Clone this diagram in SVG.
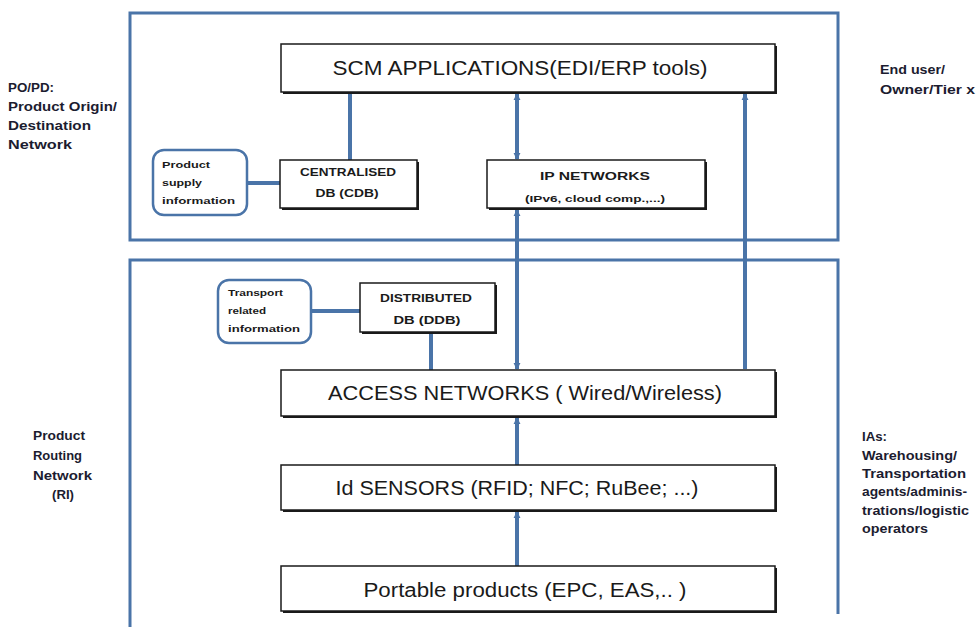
<svg xmlns="http://www.w3.org/2000/svg" width="978" height="627" viewBox="0 0 978 627">
<style>
.frame{fill:none;stroke:#4a74a8;stroke-width:3}
.box{fill:#fff;stroke:#1a1a1a;stroke-width:1.5}
.shadow{fill:#1a1a1a}
.info{fill:#fff;stroke:#4a74a8;stroke-width:2.5}
.big{font-family:"Liberation Sans",Arial,sans-serif;font-size:19.5px;fill:#1a1a1a;text-anchor:middle}
.mid{font-family:"Liberation Sans",Arial,sans-serif;font-size:11.5px;font-weight:bold;fill:#1a1a1a;text-anchor:middle}
.small{font-family:"Liberation Sans",Arial,sans-serif;font-size:8.5px;font-weight:bold;fill:#1a1a1a;text-anchor:middle}
.tiny{font-family:"Liberation Sans",Arial,sans-serif;font-size:9px;font-weight:bold;fill:#1a1a1a}
.side{font-family:"Liberation Sans",Arial,sans-serif;font-size:12px;font-weight:bold;fill:#1c1c30}
.conn{stroke:#4a74a8;stroke-width:4;fill:none}
</style>
<defs>
<marker id="ah" viewBox="0 0 8 8" refX="7" refY="4" markerWidth="1.8" markerHeight="1.8" orient="auto-start-reverse" markerUnits="strokeWidth">
<path d="M0,0 L8,4 L0,8 z" fill="#4a74a8"/>
</marker>
</defs>

<g id="frames">
<rect class="frame" x="130" y="13" width="708" height="227"/>
<path class="frame" d="M130,627 V260 H838 V614"/>
</g>

<g id="connectors">
<line class="conn" x1="350" y1="160" x2="350" y2="93"/>
<line class="conn" x1="517" y1="94" x2="517" y2="159" marker-start="url(#ah)" marker-end="url(#ah)"/>
<line class="conn" x1="517" y1="210" x2="517" y2="369" marker-start="url(#ah)" marker-end="url(#ah)"/>
<line class="conn" x1="745" y1="94" x2="745" y2="369" marker-start="url(#ah)"/>
<line class="conn" x1="247" y1="183" x2="280" y2="183" stroke-width="5"/>
<line class="conn" x1="311" y1="311" x2="360" y2="311" stroke-width="5"/>
<line class="conn" x1="431" y1="333" x2="431" y2="370" stroke-width="3"/>
<line class="conn" x1="517" y1="418" x2="517" y2="465" marker-start="url(#ah)"/>
<line class="conn" x1="517" y1="512" x2="517" y2="566" marker-start="url(#ah)"/>
</g>

<g id="scm">
<rect class="shadow" x="283" y="46" width="494" height="48"/>
<rect class="box" x="281" y="44" width="494" height="48"/>
<text class="big" x="520" y="75" textLength="375" lengthAdjust="spacingAndGlyphs">SCM APPLICATIONS(EDI/ERP tools)</text>
</g>

<g id="cdb">
<rect class="shadow" x="282" y="162" width="137" height="48"/>
<rect class="box" x="280" y="160" width="137" height="48"/>
<text class="mid" x="348" y="176" textLength="96" lengthAdjust="spacingAndGlyphs">CENTRALISED</text>
<text class="mid" x="347" y="197" textLength="63" lengthAdjust="spacingAndGlyphs">DB (CDB)</text>
</g>

<g id="ipnet">
<rect class="shadow" x="489" y="162" width="218" height="48"/>
<rect class="box" x="487" y="160" width="218" height="48"/>
<text class="mid" x="595" y="180" font-size="13" textLength="110" lengthAdjust="spacingAndGlyphs">IP NETWORKS</text>
<text class="small" x="595" y="202" textLength="140" lengthAdjust="spacingAndGlyphs">(IPv6, cloud comp.,...)</text>
</g>

<g id="supply">
<rect class="info" x="153" y="150" width="94" height="65" rx="11"/>
<text class="tiny" x="162" y="168" textLength="48" lengthAdjust="spacingAndGlyphs">Product</text>
<text class="tiny" x="162" y="186" textLength="40" lengthAdjust="spacingAndGlyphs">supply</text>
<text class="tiny" x="162" y="204" textLength="73" lengthAdjust="spacingAndGlyphs">information</text>
</g>

<g id="transport">
<rect class="info" x="218" y="280" width="93" height="63" rx="11"/>
<text class="tiny" x="228" y="296" textLength="55" lengthAdjust="spacingAndGlyphs">Transport</text>
<text class="tiny" x="228" y="314" textLength="38" lengthAdjust="spacingAndGlyphs">related</text>
<text class="tiny" x="228" y="332" textLength="72" lengthAdjust="spacingAndGlyphs">information</text>
</g>

<g id="ddb">
<rect class="shadow" x="362" y="285" width="135" height="49"/>
<rect class="box" x="360" y="283" width="135" height="49"/>
<text class="mid" x="426" y="302" textLength="92" lengthAdjust="spacingAndGlyphs">DISTRIBUTED</text>
<text class="mid" x="427" y="324" textLength="67" lengthAdjust="spacingAndGlyphs">DB (DDB)</text>
</g>

<g id="access">
<rect class="shadow" x="283" y="372" width="494" height="46"/>
<rect class="box" x="281" y="370" width="494" height="46"/>
<text class="big" x="525" y="400" textLength="394" lengthAdjust="spacingAndGlyphs">ACCESS NETWORKS ( Wired/Wireless)</text>
</g>

<g id="sensors">
<rect class="shadow" x="283" y="467" width="494" height="45"/>
<rect class="box" x="281" y="465" width="494" height="45"/>
<text class="big" x="517" y="495" textLength="363" lengthAdjust="spacingAndGlyphs">Id SENSORS (RFID; NFC; RuBee; ...)</text>
</g>

<g id="products">
<rect class="shadow" x="283" y="568" width="494" height="45"/>
<rect class="box" x="281" y="566" width="494" height="45"/>
<text class="big" x="525" y="597" textLength="323" lengthAdjust="spacingAndGlyphs">Portable products (EPC, EAS,.. )</text>
</g>

<g id="label-popd">
<text class="side" x="8" y="92" textLength="46" lengthAdjust="spacingAndGlyphs">PO/PD:</text>
<text class="side" x="8" y="111" textLength="109" lengthAdjust="spacingAndGlyphs">Product Origin/</text>
<text class="side" x="8" y="130" textLength="83" lengthAdjust="spacingAndGlyphs">Destination</text>
<text class="side" x="8" y="149" textLength="64" lengthAdjust="spacingAndGlyphs">Network</text>
</g>

<g id="label-ri">
<text class="side" x="33" y="440" textLength="52" lengthAdjust="spacingAndGlyphs">Product</text>
<text class="side" x="33" y="460" textLength="49" lengthAdjust="spacingAndGlyphs">Routing</text>
<text class="side" x="33" y="480" textLength="59" lengthAdjust="spacingAndGlyphs">Network</text>
<text class="side" x="52" y="499" textLength="22" lengthAdjust="spacingAndGlyphs">(RI)</text>
</g>

<g id="label-enduser">
<text class="side" x="880" y="74" textLength="65" lengthAdjust="spacingAndGlyphs">End user/</text>
<text class="side" x="880" y="94" textLength="95" lengthAdjust="spacingAndGlyphs">Owner/Tier  x</text>
</g>

<g id="label-ias">
<text class="side" x="862" y="441" textLength="25" lengthAdjust="spacingAndGlyphs">IAs:</text>
<text class="side" x="862" y="460" textLength="95" lengthAdjust="spacingAndGlyphs">Warehousing/</text>
<text class="side" x="862" y="478" textLength="104" lengthAdjust="spacingAndGlyphs">Transportation</text>
<text class="side" x="862" y="496" textLength="105" lengthAdjust="spacingAndGlyphs">agents/adminis-</text>
<text class="side" x="862" y="515" textLength="107" lengthAdjust="spacingAndGlyphs">trations/logistic</text>
<text class="side" x="862" y="533" textLength="66" lengthAdjust="spacingAndGlyphs">operators</text>
</g>
</svg>
